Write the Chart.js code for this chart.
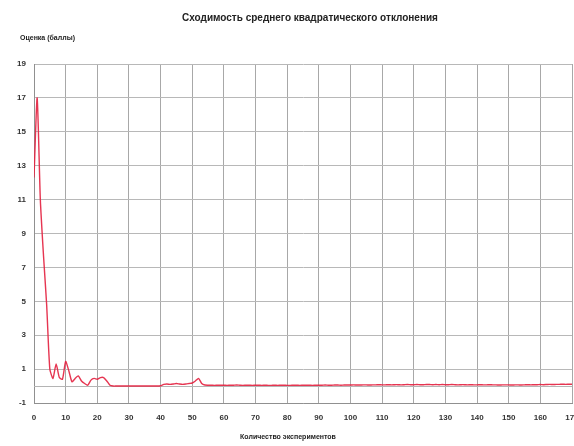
<!DOCTYPE html>
<html>
<head>
<meta charset="utf-8">
<script src="https://cdn.jsdelivr.net/npm/chart.js@4.4.1/dist/chart.umd.min.js"></script>
<style>
  html, body { margin: 0; padding: 0; background: #ffffff; }
  #wrap { width: 574px; height: 446px; }
</style>
</head>
<body>
<div id="wrap"><canvas id="chart" width="574" height="446"></canvas></div>
<script>
// Chart texts
const chartTitle = 'Сходимость среднего квадратического отклонения';
const yCaption = 'Оценка (баллы)';
const xCaption = 'Количество экспериментов';

// Axis ranges and tick steps
const yMin = -1, yMax = 19, yStep = 2;
const xMin = 0, xMax = 170, xStep = 10;

// Standard deviation estimate after each experiment (index = number of experiments)
const deviation = [
  12.3, 17.0, 11.0, 7.7, 4.8, 1.0, 0.45, 1.3, 0.5, 0.4,
  1.45, 0.9, 0.25, 0.45, 0.6, 0.3, 0.15, 0.05, 0.35, 0.45,
  0.4, 0.5, 0.5, 0.3, 0.05, 0.0, 0.0, 0.0, 0.0, 0.0,
  0.0, 0.0, 0.0, 0.0, 0.0, 0.0, 0.0, 0.0, 0.0, 0.0,
  0.02, 0.1, 0.12, 0.1, 0.12, 0.15, 0.12, 0.1, 0.12, 0.15,
  0.18, 0.3, 0.45, 0.15, 0.06, 0.05, 0.05, 0.04, 0.05, 0.05,
  0.05, 0.04, 0.05, 0.05, 0.06, 0.05, 0.04, 0.05, 0.05, 0.04,
  0.05, 0.05, 0.04, 0.05, 0.04, 0.04, 0.05, 0.04, 0.05, 0.05,
  0.04, 0.04, 0.05, 0.05, 0.04, 0.05, 0.05, 0.05, 0.04, 0.05,
  0.05, 0.05, 0.06, 0.05, 0.05, 0.06, 0.06, 0.05, 0.06, 0.06,
  0.06, 0.07, 0.06, 0.06, 0.07, 0.07, 0.06, 0.07, 0.07, 0.08,
  0.07, 0.07, 0.08, 0.07, 0.08, 0.08, 0.07, 0.08, 0.09, 0.08,
  0.08, 0.09, 0.08, 0.08, 0.09, 0.09, 0.08, 0.09, 0.08, 0.09,
  0.08, 0.08, 0.09, 0.08, 0.07, 0.08, 0.08, 0.07, 0.08, 0.07,
  0.07, 0.08, 0.07, 0.07, 0.08, 0.07, 0.07, 0.06, 0.07, 0.07,
  0.07, 0.06, 0.07, 0.07, 0.06, 0.07, 0.08, 0.07, 0.08, 0.08,
  0.09, 0.08, 0.09, 0.1, 0.09, 0.1, 0.1, 0.11, 0.1, 0.11,
  0.11
];

const points = deviation.map((v, i) => ({ x: i, y: v }));

const textFont = '"Liberation Sans", Arial, sans-serif';

// Draws the title, both captions and a thin line at zero
const extras = {
  id: 'extras',
  beforeDatasetsDraw(chart) {
    const { ctx, chartArea, scales } = chart;
    const y0 = scales.y.getPixelForValue(0);
    ctx.save();
    ctx.strokeStyle = '#b4b4b4';
    ctx.lineWidth = 1;
    ctx.beginPath();
    ctx.moveTo(chartArea.left, Math.round(y0) + 0.5);
    ctx.lineTo(chartArea.right, Math.round(y0) + 0.5);
    ctx.stroke();
    ctx.restore();
  },
  afterDraw(chart) {
    const { ctx } = chart;
    ctx.save();
    ctx.fillStyle = '#222222';
    ctx.textBaseline = 'middle';
    ctx.textAlign = 'center';
    ctx.font = 'bold 10px ' + textFont;
    ctx.fillText(chartTitle, 310, 18);
    ctx.font = 'bold 7px ' + textFont;
    ctx.fillText(xCaption, 288, 437);
    ctx.textAlign = 'left';
    ctx.font = 'bold 7px ' + textFont;
    ctx.fillText(yCaption, 20, 38);
    ctx.restore();
  }
};

new Chart(document.getElementById('chart'), {
  type: 'line',
  data: {
    datasets: [{
      data: points,
      borderColor: 'rgba(228, 36, 66, 0.92)',
      borderWidth: 1.4,
      pointRadius: 0,
      tension: 0.2,
      fill: false
    }]
  },
  options: {
    responsive: false,
    animation: false,
    layout: { padding: { top: 64, right: 2, bottom: 0, left: 0 } },
    plugins: {
      legend: { display: false },
      tooltip: { enabled: false }
    },
    scales: {
      x: {
        type: 'linear',
        min: xMin,
        max: xMax,
        ticks: {
          stepSize: xStep,
          padding: 10,
          color: '#333333',
          maxRotation: 0,
          font: { family: textFont, size: 8, weight: 'bold' }
        },
        grid: { color: '#a8a8a8', lineWidth: 1, drawTicks: false },
        border: { color: '#909090' },
        afterFit(scale) {
          scale.height = 43;
          scale.paddingLeft = 0;
          scale.paddingRight = 0;
        }
      },
      y: {
        min: yMin,
        max: yMax,
        ticks: {
          stepSize: yStep,
          padding: 8,
          color: '#333333',
          font: { family: textFont, size: 8, weight: 'bold' }
        },
        grid: { color: '#b8b8b8', lineWidth: 1, drawTicks: false },
        border: { color: '#909090' },
        afterFit(scale) {
          scale.width = 34;
        }
      }
    }
  },
  plugins: [extras]
});
</script>
</body>
</html>
